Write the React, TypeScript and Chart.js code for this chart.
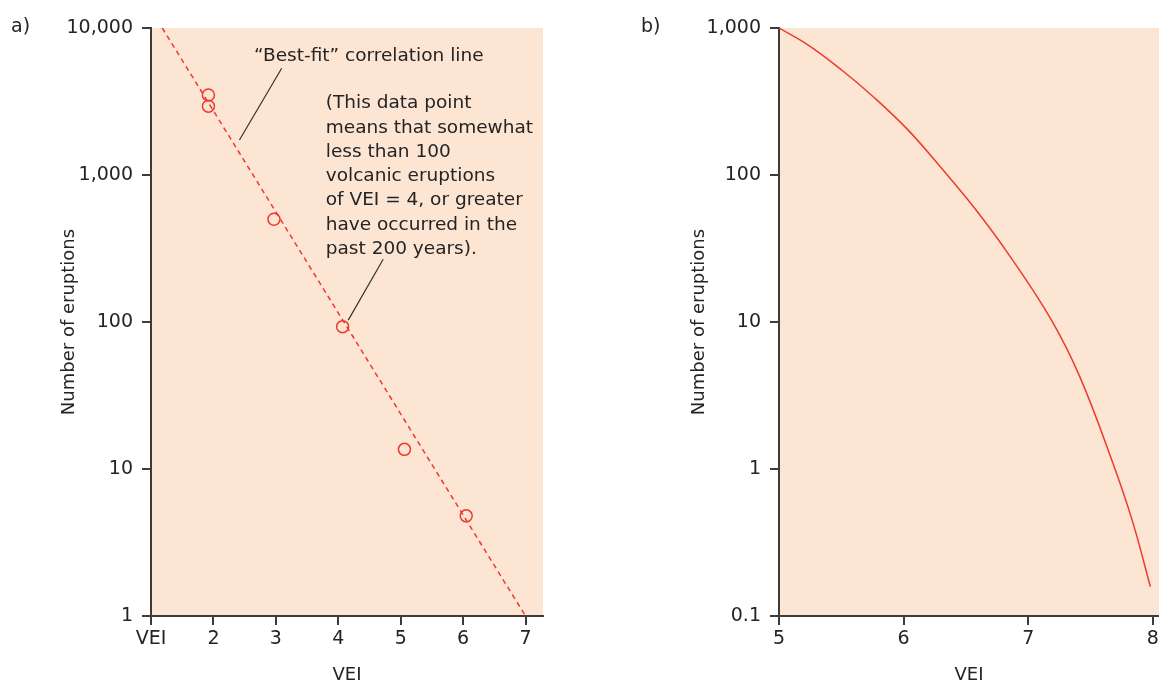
import React, { useEffect, useRef } from "react";
import { Chart, registerables } from "chart.js";

Chart.register(...registerables);

// ---------- data: panel a ----------
const leftTickVEI = [1, 2, 3, 4, 5, 6, 7];
const leftTickLabels = ["VEI", "2", "3", "4", "5", "6", "7"];
const leftYTicks = [1, 10, 100, 1000, 10000];
const obsVEI = [1.92, 1.92, 2.97, 4.07, 5.06, 6.05];
const obsCount = [3500, 2940, 500, 93, 13.6, 4.8];
const fitVEI = [1.18, 7.0];
const fitCount = [10000, 1];

// ---------- data: panel b ----------
const rightTickVEI = [5, 6, 7, 8];
const rightYTicks = [0.1, 1, 10, 100, 1000];
const curveVEI = [5.0, 5.235, 5.503, 5.77, 6.037, 6.305, 6.572, 6.839, 7.181, 7.414, 7.681, 7.841, 7.981];
const curveCount = [1000, 765, 518, 333, 202, 111, 59.2, 29.2, 10.5, 4.25, 1.09, 0.43, 0.158];

// ---------- text ----------
const fitLabel = "\u201CBest-fit\u201D correlation line";
const noteLines = [
  "(This data point",
  "means that somewhat",
  "less than 100",
  "volcanic eruptions",
  "of VEI = 4, or greater",
  "have occurred in the",
  "past 200 years).",
];

const FONT = "'DejaVu Sans', 'Liberation Sans', sans-serif";
const RED = "#ee3a2e";
const PEACH = "#fde5d4";
const AXIS = "#3c3c3c";
const TEXT = "#242424";

const bgPlugin = {
  id: "plotBg",
  beforeDraw(chart: any) {
    const { ctx, chartArea: a } = chart;
    ctx.save();
    ctx.fillStyle = PEACH;
    ctx.fillRect(a.left, a.top, a.right - a.left, a.bottom - a.top);
    ctx.restore();
  },
};

function panelLabel(text: string, x: number) {
  return {
    id: "panelLabel",
    afterDraw(chart: any) {
      const ctx = chart.ctx;
      ctx.save();
      ctx.font = `19px ${FONT}`;
      ctx.fillStyle = TEXT;
      ctx.textAlign = "left";
      ctx.textBaseline = "middle";
      ctx.fillText(text, x, 27);
      ctx.restore();
    },
  };
}

const notesPlugin = {
  id: "notes",
  afterDraw(chart: any) {
    const { ctx } = chart;
    const xs = chart.scales.x;
    const ys = chart.scales.y;
    const px = (v: number) => xs.getPixelForValue(v);
    const py = (v: number) => ys.getPixelForValue(v);
    ctx.save();
    ctx.font = `18.5px ${FONT}`;
    ctx.fillStyle = TEXT;
    ctx.textAlign = "left";
    ctx.textBaseline = "alphabetic";
    ctx.fillText(fitLabel, px(2.65), py(5970));
    const nx = px(3.8);
    const ny = py(2845);
    noteLines.forEach((t, i) => ctx.fillText(t, nx, ny + i * 24.3));
    ctx.strokeStyle = "#333";
    ctx.lineWidth = 1.2;
    ctx.beginPath();
    ctx.moveTo(px(3.094), py(5320));
    ctx.lineTo(px(2.417), py(1730));
    ctx.moveTo(px(4.72), py(267));
    ctx.lineTo(px(4.16), py(103));
    ctx.stroke();
    ctx.restore();
  },
};

function axisCommon() {
  return {
    grid: {
      display: true,
      drawOnChartArea: false,
      drawTicks: true,
      tickLength: 9,
      color: AXIS,
      lineWidth: 2,
    },
    border: { display: true, color: AXIS, width: 2 },
  };
}

function makeLeft(canvas: HTMLCanvasElement) {
  return new Chart(canvas, {
    type: "scatter",
    data: {
      datasets: [
        {
          data: fitVEI.map((v, i) => ({ x: v, y: fitCount[i] })),
          showLine: true,
          borderColor: RED,
          borderWidth: 1.5,
          borderDash: [5, 4],
          pointRadius: 0,
        },
        {
          data: obsVEI.map((v, i) => ({ x: v, y: obsCount[i] })),
          showLine: false,
          pointRadius: 6,
          pointBorderWidth: 1.5,
          pointBorderColor: RED,
          pointBackgroundColor: "rgba(0,0,0,0)",
        },
      ],
    },
    options: {
      animation: false,
      responsive: false,
      devicePixelRatio: 1,
      layout: { padding: { top: 28, right: 17, bottom: 0, left: 0 } },
      plugins: { legend: { display: false }, tooltip: { enabled: false } },
      scales: {
        x: {
          type: "linear",
          min: 1,
          max: 7.28,
          afterBuildTicks: (s: any) => {
            s.ticks = leftTickVEI.map((v) => ({ value: v }));
          },
          afterFit: (s: any) => {
            s.height = 70;
          },
          ticks: {
            autoSkip: false,
            maxRotation: 0,
            padding: 3,
            color: TEXT,
            font: { size: 19, family: FONT },
            callback: (v: any) => {
              const i = leftTickVEI.indexOf(Number(v));
              return i >= 0 ? leftTickLabels[i] : "";
            },
          },
          title: {
            display: true,
            text: "VEI",
            color: TEXT,
            font: { size: 18, family: FONT },
            padding: { top: 0, bottom: 0 },
          },
          ...axisCommon(),
        },
        y: {
          type: "logarithmic",
          min: 1,
          max: 10000,
          afterBuildTicks: (s: any) => {
            s.ticks = leftYTicks.map((v) => ({ value: v, major: true }));
          },
          afterFit: (s: any) => {
            s.width = 151;
          },
          ticks: {
            autoSkip: false,
            padding: 9,
            color: TEXT,
            font: { size: 19, family: FONT },
            callback: (v: any) => Number(v).toLocaleString("en-US"),
          },
          title: {
            display: true,
            text: "Number of eruptions",
            color: TEXT,
            font: { size: 18, family: FONT },
            padding: { top: 59, bottom: 0 },
          },
          ...axisCommon(),
        },
      },
    } as any,
    plugins: [bgPlugin, notesPlugin, panelLabel("a)", 11)],
  });
}

function makeRight(canvas: HTMLCanvasElement) {
  return new Chart(canvas, {
    type: "scatter",
    data: {
      datasets: [
        {
          data: curveVEI.map((v, i) => ({ x: v, y: curveCount[i] })),
          showLine: true,
          borderColor: RED,
          borderWidth: 1.5,
          pointRadius: 0,
          tension: 0.4,
        },
      ],
    },
    options: {
      animation: false,
      responsive: false,
      devicePixelRatio: 1,
      layout: { padding: { top: 28, right: 21, bottom: 0, left: 0 } },
      plugins: { legend: { display: false }, tooltip: { enabled: false } },
      scales: {
        x: {
          type: "linear",
          min: 5,
          max: 8.05,
          afterBuildTicks: (s: any) => {
            s.ticks = rightTickVEI.map((v) => ({ value: v }));
          },
          afterFit: (s: any) => {
            s.height = 70;
          },
          ticks: {
            autoSkip: false,
            maxRotation: 0,
            padding: 3,
            color: TEXT,
            font: { size: 19, family: FONT },
            callback: (v: any) => String(v),
          },
          title: {
            display: true,
            text: "VEI",
            color: TEXT,
            font: { size: 18, family: FONT },
            padding: { top: 0, bottom: 0 },
          },
          ...axisCommon(),
        },
        y: {
          type: "logarithmic",
          min: 0.1,
          max: 1000,
          afterBuildTicks: (s: any) => {
            s.ticks = rightYTicks.map((v) => ({ value: v, major: true }));
          },
          afterFit: (s: any) => {
            s.width = 179;
          },
          ticks: {
            autoSkip: false,
            padding: 9,
            color: TEXT,
            font: { size: 19, family: FONT },
            callback: (v: any) => Number(v).toLocaleString("en-US"),
          },
          title: {
            display: true,
            text: "Number of eruptions",
            color: TEXT,
            font: { size: 18, family: FONT },
            padding: { top: 89, bottom: 0 },
          },
          ...axisCommon(),
        },
      },
    } as any,
    plugins: [bgPlugin, panelLabel("b)", 41)],
  });
}

export default function App() {
  const leftRef = useRef<HTMLCanvasElement | null>(null);
  const rightRef = useRef<HTMLCanvasElement | null>(null);

  useEffect(() => {
    const a = leftRef.current ? makeLeft(leftRef.current) : null;
    const b = rightRef.current ? makeRight(rightRef.current) : null;
    return () => {
      a?.destroy();
      b?.destroy();
    };
  }, []);

  return (
    <div
      style={{
        position: "fixed",
        left: 0,
        top: 0,
        width: 1159,
        height: 686,
        overflow: "hidden",
        background: "#ffffff",
      }}
    >
      <canvas
        ref={leftRef}
        width={560}
        height={686}
        style={{ position: "absolute", left: 0, top: 0 }}
      />
      <canvas
        ref={rightRef}
        width={580}
        height={686}
        style={{ position: "absolute", left: 600, top: 0 }}
      />
    </div>
  );
}
